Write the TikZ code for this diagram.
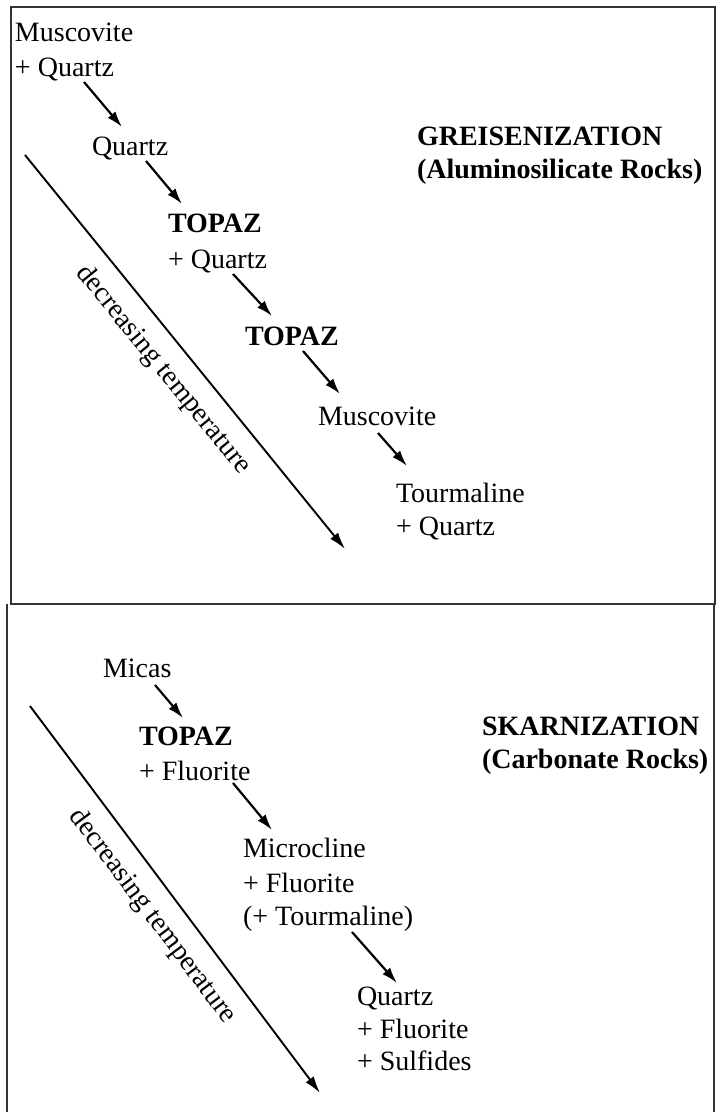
\documentclass[tikz,border=0pt]{standalone}
\usepackage{fontspec}
\setmainfont{Liberation Serif}
\usetikzlibrary{arrows.meta}
\begin{document}
\begin{tikzpicture}[x=1pt,y=-1pt,
  every node/.style={inner sep=0pt, outer sep=0pt, anchor=base west, text height=19pt, text depth=6pt, font=\fontsize{28}{34}\selectfont},
  heavy/.style={font=\fontsize{28}{34}\selectfont\bfseries},
  flow/.style={line width=2.2pt, -{Latex[length=16pt,width=10pt]}},
  trend/.style={line width=1.9pt, -{Latex[length=17pt,width=10pt]}},
  panel/.style={line width=1.1pt, black!80}]
\useasboundingbox (0,0) rectangle (716,1112);
\draw[panel] (11,7) rectangle (715,604);
\draw[panel] (7,604) -- (7,1112);
\draw[panel] (714,604) -- (714,1112);

\node (mus1) at (15,41) {Muscovite};
\node (mq1) at (15,76) {+ Quartz};
\node (qtz1) at (92,155) {Quartz};
\node[heavy] (tpz1) at (168,232) {TOPAZ};
\node (tq1) at (168,268) {+ Quartz};
\node[heavy] (tpz2) at (245,345) {TOPAZ};
\node (mus2) at (318,425) {Muscovite};
\node (tou1) at (396,502) {Tourmaline};
\node (tq2) at (396,535) {+ Quartz};
\node[heavy] (grei) at (417,145) {GREISENIZATION};
\node[heavy] (alum) at (417,178) {(Aluminosilicate Rocks)};
\draw[flow] ([xshift=69pt]mq1.south west) -- ([xshift=30pt,yshift=9pt]qtz1.north west);
\draw[flow] ([xshift=54pt]qtz1.south west) -- ([xshift=14pt,yshift=9pt]tpz1.north west);
\draw[flow] ([xshift=65pt]tq1.south west) -- ([xshift=27pt,yshift=10pt]tpz2.north west);
\draw[flow] ([xshift=58pt]tpz2.south west) -- ([xshift=22pt,yshift=12pt]mus2.north west);
\draw[flow] ([xshift=60pt,yshift=-2pt]mus2.south west) -- ([xshift=11pt,yshift=17pt]tou1.north west);
\coordinate (hot1) at (25,155);
\coordinate (cold1) at (345,549);
\draw[trend] (hot1) -- node[midway, sloped, below=16pt] (temp1) {decreasing temperature} (cold1);

\node (mic) at (103,677) {Micas};
\node[heavy] (tpz3) at (139,745) {TOPAZ};
\node (fl1) at (139,780) {+ Fluorite};
\node (mcl) at (243,857) {Microcline};
\node (fl2) at (243,892) {+ Fluorite};
\node (tou2) at (243,925) {(+ Tourmaline)};
\node (qtz2) at (357,1005) {Quartz};
\node (fl3) at (357,1038) {+ Fluorite};
\node (sulf) at (357,1070) {+ Sulfides};
\node[heavy] (skar) at (482,735) {SKARNIZATION};
\node[heavy] (carb) at (482,768) {(Carbonate Rocks)};
\draw[flow] ([xshift=52pt,yshift=-2pt]mic.south west) -- ([xshift=44pt,yshift=8pt]tpz3.north west);
\draw[flow] ([xshift=94pt,yshift=3pt]fl1.south west) -- ([xshift=29pt,yshift=8pt]mcl.north west);
\draw[flow] ([xshift=109pt,yshift=-1pt]tou2.south west) -- ([xshift=40pt,yshift=3pt]qtz2.north west);
\coordinate (hot2) at (30,706);
\coordinate (cold2) at (320,1093);
\draw[trend] (hot2) -- node[midway, sloped, below=16pt] (temp2) {decreasing temperature} (cold2);
\end{tikzpicture}
\end{document}
